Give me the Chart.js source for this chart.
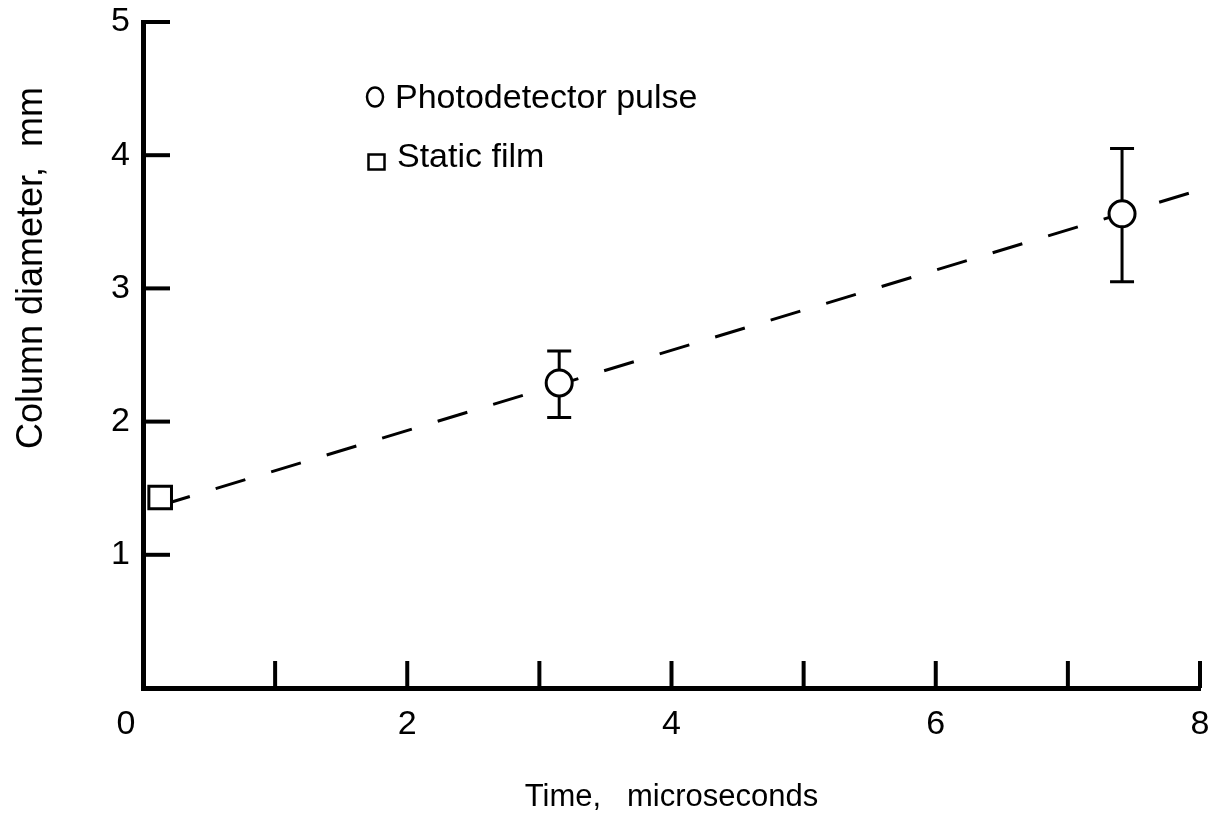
<!DOCTYPE html>
<html>
<head>
<meta charset="utf-8">
<script src="https://cdn.jsdelivr.net/npm/chart.js@4.4.1/dist/chart.umd.min.js"></script>
<style>
    html, body { margin: 0; padding: 0; background: #fff; }
    #wrap { width: 1219px; height: 819px; }
</style>
</head>
<body>
<div id="wrap"><canvas id="chart" width="1219" height="819"></canvas></div>
<script>
// values
const pulseTimes = [3.15, 7.41];
const pulseDiameters = [2.29, 3.56];
const pulseErrLow = [2.03, 3.05];
const pulseErrHigh = [2.53, 4.05];

const filmTimes = [0.13];
const filmDiameters = [1.43];

const fitTimes = [0.13, 8];
const fitDiameters = [1.37, 3.74];

const xTickLabels = ['0', '', '2', '', '4', '', '6', '', '8'];
const yTickLabels = ['', '1', '2', '3', '4', '5'];

const FONT = "'Liberation Sans', Arial, sans-serif";

function toPoints(xs, ys) {
    return xs.map((x, i) => ({ x, y: ys[i] }));
}

// tick marks point into the plot
const inwardTicks = {
    id: 'inwardTicks',
    afterDraw(chart) {
        const { ctx, chartArea, scales } = chart;
        ctx.save();
        ctx.strokeStyle = '#000';
        ctx.lineWidth = 4;
        ctx.lineCap = 'butt';
        scales.y.ticks.forEach(t => {
            if (t.value === 0) return;
            const py = scales.y.getPixelForValue(t.value);
            ctx.beginPath();
            ctx.moveTo(chartArea.left, py);
            ctx.lineTo(chartArea.left + 27, py);
            ctx.stroke();
        });
        scales.x.ticks.forEach(t => {
            if (t.value === 0) return;
            const px = scales.x.getPixelForValue(t.value);
            ctx.beginPath();
            ctx.moveTo(px, chartArea.bottom);
            ctx.lineTo(px, chartArea.bottom - 27);
            ctx.stroke();
        });
        ctx.restore();
    }
};

const errorBars = {
    id: 'errorBars',
    beforeDatasetsDraw(chart) {
        const { ctx, scales } = chart;
        ctx.save();
        ctx.strokeStyle = '#000';
        ctx.lineWidth = 3;
        chart.data.datasets.forEach(ds => {
            if (!ds.errLow) return;
            ds.data.forEach((p, i) => {
                const px = scales.x.getPixelForValue(p.x);
                const lo = scales.y.getPixelForValue(ds.errLow[i]);
                const hi = scales.y.getPixelForValue(ds.errHigh[i]);
                ctx.beginPath();
                ctx.moveTo(px, lo);
                ctx.lineTo(px, hi);
                ctx.moveTo(px - 12, lo);
                ctx.lineTo(px + 12, lo);
                ctx.moveTo(px - 12, hi);
                ctx.lineTo(px + 12, hi);
                ctx.stroke();
            });
        });
        ctx.restore();
    }
};

const legendBox = {
    id: 'legendBox',
    afterDraw(chart) {
        const { ctx } = chart;
        const ds = chart.data.datasets;
        ctx.save();
        ctx.strokeStyle = '#000';
        ctx.fillStyle = '#000';
        ctx.lineWidth = 2.5;
        ctx.beginPath();
        ctx.ellipse(375, 97, 8, 9.5, 0, 0, Math.PI * 2);
        ctx.stroke();
        ctx.strokeRect(368.5, 154.5, 16, 15);
        ctx.font = '34px ' + FONT;
        ctx.textBaseline = 'alphabetic';
        ctx.textAlign = 'left';
        ctx.fillText(ds[0].label, 395, 108);
        ctx.fillText(ds[1].label, 397, 167);
        ctx.restore();
    }
};

const yTitle = {
    id: 'yTitle',
    afterDraw(chart) {
        const { ctx } = chart;
        ctx.save();
        ctx.translate(42, 268);
        ctx.rotate(-Math.PI / 2);
        ctx.font = '36px ' + FONT;
        ctx.fillStyle = '#000';
        ctx.textAlign = 'center';
        ctx.textBaseline = 'alphabetic';
        ctx.fillText('Column diameter,  mm', 0, 0);
        ctx.restore();
    }
};

new Chart(document.getElementById('chart'), {
    type: 'scatter',
    data: {
        datasets: [
            {
                label: 'Photodetector pulse',
                data: toPoints(pulseTimes, pulseDiameters),
                errLow: pulseErrLow,
                errHigh: pulseErrHigh,
                pointStyle: 'circle',
                pointRadius: 13,
                borderWidth: 3,
                borderColor: '#000',
                backgroundColor: '#fff',
                order: 1,
                clip: false
            },
            {
                label: 'Static film',
                data: toPoints(filmTimes, filmDiameters),
                pointStyle: 'rect',
                pointRadius: 16,
                borderWidth: 3,
                borderColor: '#000',
                backgroundColor: '#fff',
                order: 1,
                clip: false
            },
            {
                label: 'fit',
                type: 'line',
                data: toPoints(fitTimes, fitDiameters),
                showLine: true,
                borderColor: '#000',
                borderWidth: 3,
                borderDash: [31, 27],
                pointRadius: 0,
                fill: false,
                order: 3
            }
        ]
    },
    options: {
        responsive: false,
        animation: false,
        devicePixelRatio: 1,
        layout: { padding: { top: 22, right: 19, left: 0, bottom: 0 } },
        plugins: {
            legend: { display: false },
            tooltip: { enabled: false }
        },
        scales: {
            x: {
                type: 'linear',
                min: 0,
                max: 8,
                afterFit: s => {
                    s.height = 131;
                    s.paddingLeft = 0;
                    s.paddingRight = 0;
                },
                grid: { display: false, drawTicks: false },
                border: { display: true, color: '#000', width: 5 },
                ticks: {
                    stepSize: 1,
                    autoSkip: false,
                    maxRotation: 0,
                    padding: 16,
                    color: '#000',
                    font: { family: FONT, size: 34 },
                    callback: (v, i) => i === 0 ? xTickLabels[0] + '\u2003' : xTickLabels[i]
                },
                title: {
                    display: true,
                    text: 'Time,   microseconds',
                    color: '#000',
                    font: { family: FONT, size: 31 },
                    padding: { top: 0, bottom: 3 }
                }
            },
            y: {
                type: 'linear',
                min: 0,
                max: 5,
                afterFit: s => {
                    s.width = 143;
                    s.paddingTop = 0;
                    s.paddingBottom = 0;
                },
                grid: { display: false, drawTicks: false },
                border: { display: true, color: '#000', width: 5 },
                ticks: {
                    stepSize: 1,
                    padding: 13,
                    color: '#000',
                    font: { family: FONT, size: 34 },
                    callback: (v, i) => yTickLabels[i]
                }
            }
        }
    },
    plugins: [errorBars, inwardTicks, legendBox, yTitle]
});
</script>
</body>
</html>
